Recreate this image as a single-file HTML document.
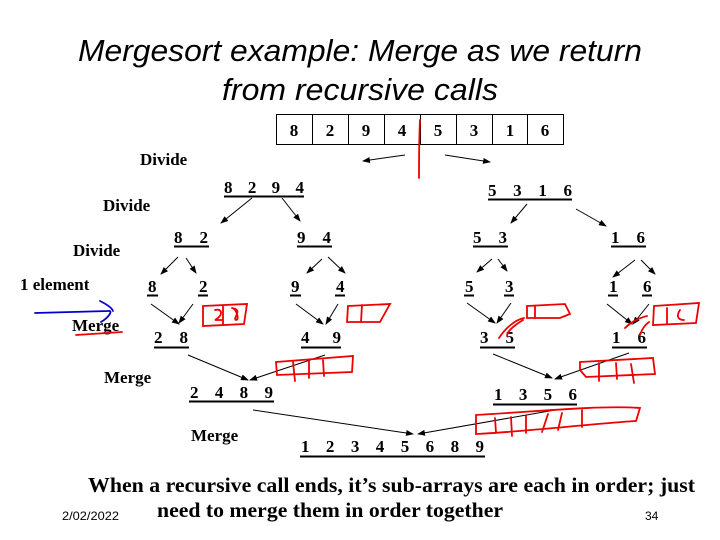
<!DOCTYPE html>
<html><head><meta charset="utf-8"><style>html,body{margin:0;padding:0;background:#fff}svg{display:block}</style></head>
<body>
<svg width="720" height="540" viewBox="0 0 720 540" xmlns="http://www.w3.org/2000/svg">
<defs><marker id="a" markerWidth="8" markerHeight="6" refX="7" refY="3" orient="auto" markerUnits="userSpaceOnUse"><path d="M0,0 L8,3 L0,6 z" fill="#000"/></marker></defs>
<g font-family="Liberation Sans, sans-serif" font-style="italic" font-size="31" text-anchor="middle">
<text x="360" y="61" textLength="564" lengthAdjust="spacingAndGlyphs">Mergesort example: Merge as we return</text>
<text x="360" y="100" textLength="276" lengthAdjust="spacingAndGlyphs">from recursive calls</text>
</g>
<g fill="none" stroke="#000" stroke-width="1">
<rect x="276.5" y="114.5" width="287" height="30"/>
<path d="M312.5 114v31M348.5 114v31M384.5 114v31M420.5 114v31M456.5 114v31M492.5 114v31M527.5 114v31"/>
</g>
<g font-family="Liberation Serif, serif" font-weight="bold" font-size="17" text-anchor="middle">
<text x="294" y="136">8</text><text x="330" y="136">2</text><text x="366" y="136">9</text><text x="402" y="136">4</text><text x="438" y="136">5</text><text x="474" y="136">3</text><text x="510" y="136">1</text><text x="545" y="136">6</text>
</g>
<g font-family="Liberation Serif, serif" font-weight="bold" font-size="17">
<text x="140" y="165">Divide</text><text x="103" y="211">Divide</text><text x="73" y="256">Divide</text>
<text x="20" y="290">1 element</text><text x="72" y="331">Merge</text><text x="104" y="383">Merge</text><text x="191" y="441">Merge</text>
</g>
<g font-family="Liberation Serif, serif" font-weight="bold" font-size="17">
<text x="224" y="193" textLength="80">8 2 9 4</text>
<text x="488" y="196" textLength="84">5 3 1 6</text>
<text x="174" y="243" textLength="34">8 2</text>
<text x="297" y="243" textLength="34">9 4</text>
<text x="473" y="243" textLength="34">5 3</text>
<text x="611" y="243" textLength="34">1 6</text>
<text x="148" y="292">8</text><text x="199" y="292">2</text><text x="291" y="292">9</text><text x="336" y="292">4</text>
<text x="465" y="292">5</text><text x="505" y="292">3</text><text x="609" y="292">1</text><text x="643" y="292">6</text>
<text x="154" y="343" textLength="34">2 8</text>
<text x="301" y="343" textLength="40">4 9</text>
<text x="480" y="343" textLength="34">3 5</text>
<text x="612" y="343" textLength="34">1 6</text>
<text x="190" y="398" textLength="83">2 4 8 9</text>
<text x="494" y="400" textLength="83">1 3 5 6</text>
<text x="301" y="452" textLength="183">1 2 3 4 5 6 8 9</text>
</g>
<g stroke="#000" stroke-width="2" fill="none">
<path d="M224 196.5h80M488 199.5h84M174 246.5h35M297 246.5h35M473 246.5h35M611 246.5h35"/>
<path d="M147 295.5h11M198 295.5h10M290 295.5h11M335 295.5h10M464 295.5h10M504 295.5h10M608 295.5h10M642 295.5h10"/>
<path d="M154 347.5h35M301 347.5h40M480 347.5h35M612 347.5h35M189 401.5h85M493 404.5h84M300 456.5h185"/>
</g>
<g stroke="#000" stroke-width="1" fill="none" marker-end="url(#a)">
<path d="M405 155L363 161"/><path d="M445 155L490 162"/>
<path d="M252 198L221 223"/><path d="M282 198L300 221"/>
<path d="M527 204L511 223"/><path d="M576 209L606 226"/>
<path d="M178 257L161 274"/><path d="M186 258L196 273"/>
<path d="M322 259L307 273"/><path d="M328 257L345 273"/>
<path d="M492 259L477 272"/><path d="M498 259L507 271"/>
<path d="M635 260L613 277"/><path d="M641 260L655 274"/>
<path d="M151 304L179 324"/><path d="M193 304L179 323"/>
<path d="M296 304L323 324"/><path d="M338 304L326 324"/>
<path d="M467 303L495 323"/><path d="M511 303L497 323"/>
<path d="M607 304L632 324"/><path d="M649 304L633 324"/>
<path d="M188 355L248 380"/><path d="M325 355L250 380"/>
<path d="M493 354L552 378"/><path d="M629 353L555 379"/>
<path d="M253 410L413 434"/><path d="M555 410L418 434"/>
</g>
<g stroke="#e00" stroke-width="1.8" fill="none" stroke-linecap="round">
<path d="M420 120C419 140 419 160 419 178"/>
<path d="M203 306L247 304L244 324L203 326Z"/><path d="M223 306L223 325M215 310c8-2 8 6 0 10h8M232 308c12 2 0 10 4 12c4 0 0-12-4-12"/>
<path d="M348 306L390 304L380 322L347 322Z"/><path d="M362 305L361 322"/>
<path d="M527 306L565 304L570 314L560 318L527 318Z"/><path d="M524 318c-10 2-20 12-25 20M523 320c-10 6-16 12-16 16"/><path d="M535 306L535 318"/>
<path d="M654 306L699 303L696 323L653 325Z"/><path d="M647 316c-8 2-16 6-22 12M649 322c-6 4-8 10-9 13"/><path d="M667 308L667 323M680 310c-4 6-2 10 4 10"/>
<path d="M276 362L353 356L352 372L277 375Z"/><path d="M293 362L295 381M309 361L309 378M323 360L324 376"/>
<path d="M580 362L653 358L655 374L586 377L580 370Z"/><path d="M599 363L599 381M616 363L617 379M631 364L634 383"/>
<path d="M476 415C530 412 600 405 640 408L636 421C600 423 520 432 476 434Z"/><path d="M495 418L496 433M511 417L512 436M526 416L526 433M548 414L542 432M562 413L558 430M582 410L582 427"/>
<path d="M76 335L122 332"/>
</g>
<path d="M35 313L108 311C114 310 108 318 101 322M100 301C106 304 112 308 113 311" stroke="#00c" stroke-width="1.8" fill="none" stroke-linecap="round"/>
<g font-family="Liberation Serif, serif" font-weight="bold" font-size="21">
<text x="88" y="492" textLength="607" lengthAdjust="spacingAndGlyphs">When a recursive call ends, it’s sub-arrays are each in order; just</text>
<text x="157" y="517" textLength="346" lengthAdjust="spacingAndGlyphs">need to merge them in order together</text>
</g>
<g font-family="Liberation Sans, sans-serif" font-size="12">
<text x="62" y="520" textLength="57" lengthAdjust="spacingAndGlyphs">2/02/2022</text>
<text x="645" y="520">34</text>
</g>
</svg>
</body></html>
